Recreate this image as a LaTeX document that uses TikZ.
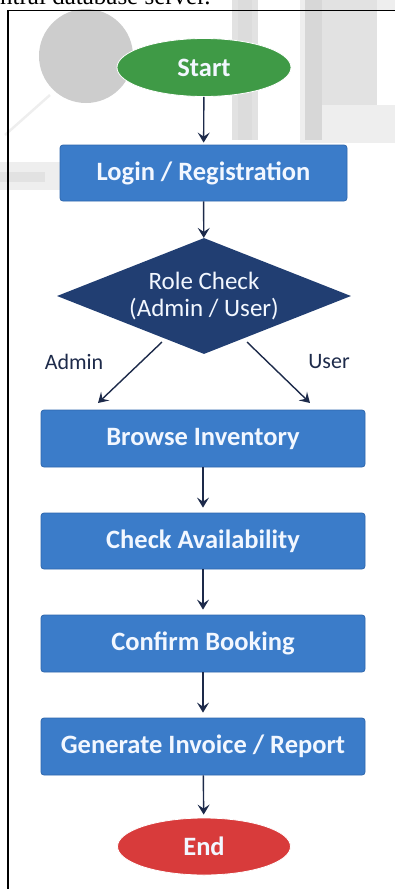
\documentclass[tikz,border=0pt]{standalone}
\usepackage{fontspec}
\setmainfont{Liberation Serif}
\newfontfamily\flowfont{Carlito}
\usetikzlibrary{shapes.geometric,arrows.meta}
\definecolor{boxblue}{HTML}{3B7CC9}
\definecolor{boxedge}{HTML}{2E67AD}
\definecolor{navy}{HTML}{213E72}
\definecolor{arrowc}{HTML}{1D2A4A}
\definecolor{startg}{HTML}{3F9A46}
\definecolor{endr}{HTML}{D83B3B}
\definecolor{txtw}{HTML}{F2F7FF}
\definecolor{wmA}{HTML}{CDCDCD}
\definecolor{wmB}{HTML}{E2E2E2}
\definecolor{wmC}{HTML}{EEEEEE}
\tikzset{
  procbox/.style={rectangle, rounded corners=3pt, fill=boxblue, draw=boxedge, line width=0.8pt,
    text=txtw, font=\flowfont\bfseries\fontsize{26.5}{28}\selectfont, inner sep=0pt},
  termnode/.style={ellipse, draw=white, line width=0.8pt, text=txtw,
    font=\flowfont\bfseries\fontsize{26.5}{28}\selectfont, minimum width=174pt, minimum height=58pt, inner sep=0pt},
  decnode/.style={diamond, aspect=2.53, fill=navy, text=txtw, font=\flowfont\fontsize{25}{27}\selectfont,
    minimum width=294pt, minimum height=116pt, inner sep=0pt, align=center},
  arr/.style={draw=arrowc, line width=1.4pt, -{Stealth[length=10pt,width=12pt,inset=4pt]}},
  lbl/.style={text=arrowc, font=\flowfont\fontsize{22}{24}\selectfont, inner sep=0pt}
}
\begin{document}
\begin{tikzpicture}[x=1pt,y=-1pt]
\useasboundingbox (0,0) rectangle (395,889);
\clip (0,0) rectangle (395,889);
% faint background watermark
\fill[wmA] (86,56) circle (47);
\fill[wmB] (232,0) rectangle (258,140);
\fill[wmA!70!white] (238,0) rectangle (252,140);
\fill[wmC] (300,0) rectangle (395,143);
\fill[white] (377,11) rectangle (395,105);
\fill[wmA!80!white] (305,0) rectangle (322,140);
\fill[wmB] (322,0) rectangle (377,105);
\fill[wmC] (0,162) rectangle (60,190);
\fill[wmB] (0,172) rectangle (45,182);
\draw[wmC, line width=2.5pt] (5,135) -- (50,95);
% page text fragment
\node[anchor=base west, inner sep=0pt, font=\fontsize{25}{25}\selectfont] (pagetext) at (0,4.5) {ntral database server.};
% frame
\draw[black, line width=1.4pt] (8,889) -- (8,10.5) -- (395,10.5);
% nodes
\node[termnode, fill=startg] (start) at (204,67.5) {Start};
\node[procbox, minimum width=287pt, minimum height=56pt] (login) at (203.5,173) {Login / Registration};
\node[decnode] (role) at (204,296) {Role Check\\(Admin / User)};
\node[procbox, minimum width=324pt, minimum height=57pt] (browse) at (203,438.5) {Browse Inventory};
\node[procbox, minimum width=324pt, minimum height=56pt] (check) at (203,541) {Check Availability};
\node[procbox, minimum width=324pt, minimum height=57pt] (confirm) at (203,643.5) {Confirm Booking};
\node[procbox, minimum width=324pt, minimum height=57pt] (invoice) at (203,746.5) {Generate Invoice / Report};
\node[termnode, fill=endr, minimum width=173pt, minimum height=57pt] (end) at (204,846.5) {End};
% labels
\node[lbl] (adminlbl) at (74,362) {Admin};
\node[lbl] (userlbl) at (329,362) {User};
% branch coordinates
\coordinate (adminS) at (162,342);
\coordinate (adminE) at (98,403);
\coordinate (userS) at (247,342);
\coordinate (userE) at (310,403);
% connectors
\draw[arr, shorten >=2pt] (start) -- (login);
\draw[arr] (login) -- (role);
\draw[arr] (adminS) -- (adminE);
\draw[arr] (userS) -- (userE);
\draw[arr, shorten >=5pt] (browse) -- (check);
\draw[arr, shorten >=5pt] (check) -- (confirm);
\draw[arr, shorten >=5pt] (confirm) -- (invoice);
\draw[arr, shorten >=3pt] (invoice) -- (end);
\end{tikzpicture}
\end{document}
